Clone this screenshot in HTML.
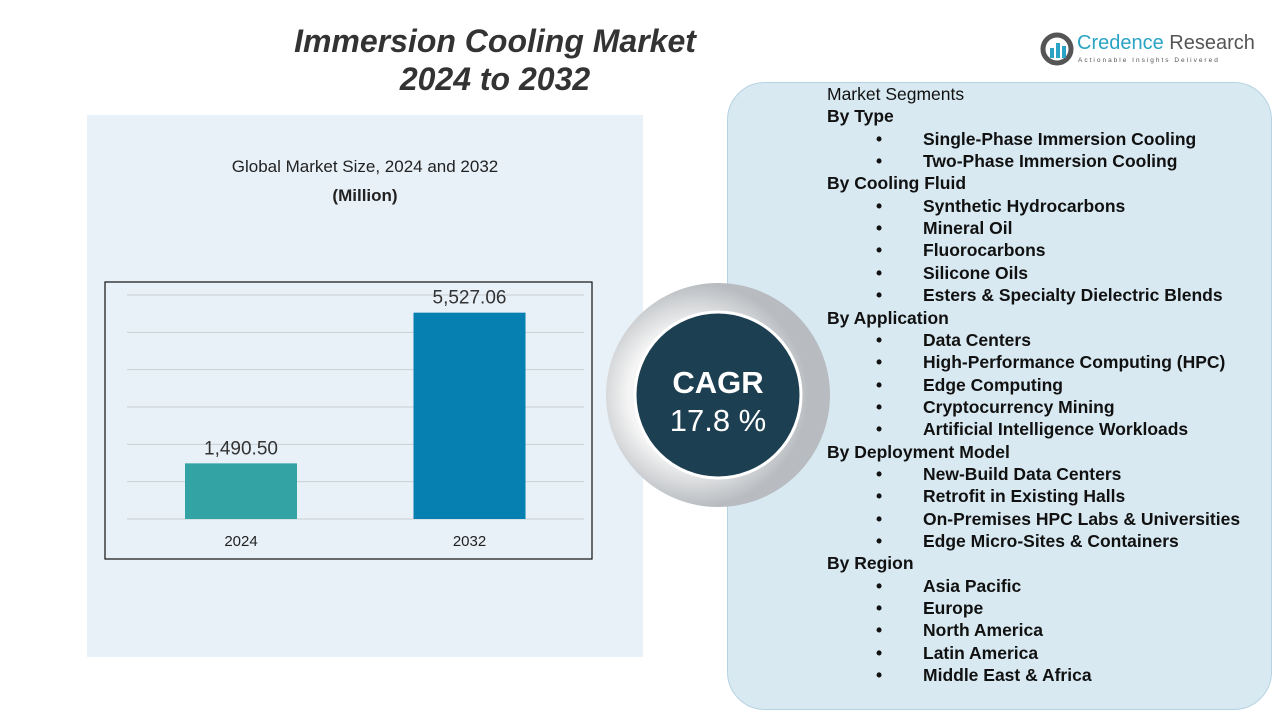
<!DOCTYPE html>
<html><head><meta charset="utf-8"><style>
body{margin:0;width:1280px;height:720px;position:relative;background:#fff;font-family:"Liberation Sans",sans-serif;overflow:hidden}
.abs{position:absolute}
#list div{position:absolute;font-size:17.5px;color:#111;white-space:nowrap;font-weight:bold}
</style></head><body>
<div class="abs" style="left:240px;top:22px;width:510px;text-align:center;font-size:32px;font-weight:bold;font-style:italic;color:#333;line-height:38px">Immersion Cooling Market<br>2024 to 2032</div>
<div class="abs" style="left:1040px;top:30px;width:225px;height:40px">
<svg width="34" height="34" style="position:absolute;left:0;top:2px"><circle cx="17" cy="17" r="14" fill="none" stroke="#555" stroke-width="5"/><rect x="10" y="16" width="4" height="10" fill="#2aa3c4"/><rect x="16" y="11" width="4" height="15" fill="#2aa3c4"/><rect x="22" y="14" width="4" height="12" fill="#2aa3c4"/></svg>
<div class="abs" style="left:37px;top:2px;font-size:20px;color:#2aa3c4;white-space:nowrap">Credence <span style="color:#555">Research</span></div>
<div class="abs" style="left:38px;top:27px;font-size:6.5px;letter-spacing:2px;color:#555;white-space:nowrap">Actionable Insights Delivered</div>
</div>
<div class="abs" style="left:87px;top:115px;width:556px;height:542px;background:#e8f1f8"></div>
<div class="abs" style="left:180px;top:152px;width:370px;text-align:center;font-size:17px;color:#222;line-height:29px">Global Market Size, 2024 and 2032<br><b>(Million)</b></div>
<svg class="abs" style="left:0;top:0" width="1280" height="720" id="chart"></svg>
<div class="abs" style="left:727px;top:82px;width:543px;height:626px;border-radius:38px;background:#d8e9f2;border:1px solid #b5d3e3"></div>
<svg class="abs" style="left:600px;top:280px" width="240" height="240">
<defs><radialGradient id="g" cx="40%" cy="50%"><stop offset="60%" stop-color="#f5f5f5"/><stop offset="100%" stop-color="#b8bcc0"/></radialGradient></defs>
<circle cx="118" cy="115" r="112" fill="url(#g)"/>
<circle cx="118" cy="115" r="83" fill="#1d3f52" stroke="#fff" stroke-width="3"/>
<text x="118" y="113" text-anchor="middle" font-size="31" font-weight="bold" fill="#fff" font-family="Liberation Sans">CAGR</text>
<text x="118" y="151" text-anchor="middle" font-size="31" fill="#fff" font-family="Liberation Sans">17.8 %</text>
</svg>
<div id="list"></div>
<script>
const categories=["2024","2032"];
const values=[1490.50,5527.06];
const labels=["1,490.50","5,527.06"];
const ticks=[0,1000,2000,3000,4000,5000,6000];
const colors=["#33a3a3","#0580b0"];
const svg=document.getElementById('chart');
const NS="http://www.w3.org/2000/svg";
const x0=105,y0=282,w=487,h=277,base=519,yTop=295,maxV=6000;
const y=v=>base-(v/maxV)*(base-yTop);
const xc=i=>241+i*228.5;
function el(t,a){const e=document.createElementNS(NS,t);for(const k in a)e.setAttribute(k,a[k]);svg.appendChild(e);return e;}
ticks.forEach(t=>{const g=el('line',{x1:127,x2:584,y1:y(t),y2:y(t),stroke:'#c8cfd4','stroke-width':1});

});
const fr=el('rect',{x:x0,y:y0,width:w,height:h,fill:'none',stroke:'#111','stroke-width':1.2});


values.forEach((v,i)=>{
const r=el('rect',{x:xc(i)-56,y:y(v),width:112,height:base-y(v),fill:colors[i]});


const t=el('text',{x:xc(i),y:y(v)-9,'text-anchor':'middle','font-size':19,fill:'#333','font-family':'Liberation Sans'});t.textContent=labels[i];


const c=el('text',{x:xc(i),y:546,'text-anchor':'middle','font-size':15,fill:'#222','font-family':'Liberation Sans'});c.textContent=categories[i];


});
const items=[["Market Segments","n"],["By Type","h"],["Single-Phase Immersion Cooling","b"],["Two-Phase Immersion Cooling","b"],["By Cooling Fluid","h"],["Synthetic Hydrocarbons","b"],["Mineral Oil","b"],["Fluorocarbons","b"],["Silicone Oils","b"],["Esters & Specialty Dielectric Blends","b"],["By Application","h"],["Data Centers","b"],["High-Performance Computing (HPC)","b"],["Edge Computing","b"],["Cryptocurrency Mining","b"],["Artificial Intelligence Workloads","b"],["By Deployment Model","h"],["New-Build Data Centers","b"],["Retrofit in Existing Halls","b"],["On-Premises HPC Labs & Universities","b"],["Edge Micro-Sites & Containers","b"],["By Region","h"],["Asia Pacific","b"],["Europe","b"],["North America","b"],["Latin America","b"],["Middle East & Africa","b"]];
const L=document.getElementById('list');
items.forEach((it,i)=>{const ty=84+i*22.35;
if(it[1]=="b"){const b=document.createElement('div');b.textContent="•";b.style.left="876px";b.style.top=ty+"px";L.appendChild(b);

}
const d=document.createElement('div');d.textContent=it[0];d.style.top=ty+"px";d.style.left=(it[1]=="b"?923:827)+"px";
if(it[1]=="n"){d.style.fontWeight="normal";}


L.appendChild(d);});
</script>
</body></html>
